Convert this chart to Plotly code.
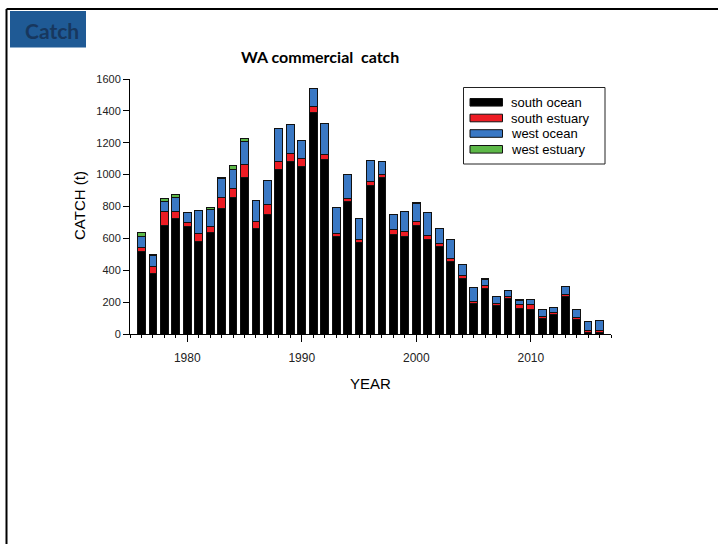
import plotly.graph_objects as go

years = list(range(1976, 2017))
series_names = ["south ocean", "south estuary", "west ocean", "west estuary"]
south_ocean = [515, 378, 678, 724, 672, 580, 636, 787, 856, 980, 663, 749, 1032, 1080, 1053, 1391, 1095,
               613, 833, 573, 932, 982, 626, 609, 678, 592, 550, 458, 349, 190, 288, 179, 221, 160, 156,
               99, 121, 236, 91, 11, 11]
south_estuary = [25, 46, 88, 46, 25, 50, 36, 67, 57, 84, 46, 63, 53, 53, 48, 35, 33, 19, 19, 23, 22, 19,
                 27, 35, 29, 27, 17, 15, 19, 12, 15, 15, 15, 22, 29, 13, 12, 14, 13, 11, 11]
west_ocean = [70, 67, 67, 86, 65, 146, 111, 122, 119, 144, 126, 151, 207, 182, 111, 115, 193, 161, 149,
              128, 135, 82, 96, 122, 111, 143, 92, 119, 67, 90, 36, 44, 37, 28, 30, 40, 34, 51, 48, 55, 63]
west_estuary = [25, 10, 17, 19, 0, 0, 10, 8, 25, 19, 0, 0, 0, 0, 0, 0, 0, 0, 0, 0, 0, 0, 0, 0, 8, 0, 0,
                0, 0, 0, 10, 0, 0, 8, 0, 0, 0, 0, 0, 0, 0]
x_tick_vals = [1980, 1990, 2000, 2010]
y_tick_vals = [0, 200, 400, 600, 800, 1000, 1200, 1400, 1600]
colors = ["#000000", "#ED1C24", "#3A78C4", "#5DB848"]

W, H = 718, 544
ML, MR, MT, MB = 130, 107, 79, 210
PW, PH = W - ML - MR, H - MT - MB


def px(xp):
    return (xp - ML) / PW


def py(yp):
    return (H - MB - yp) / PH


fig = go.Figure()
for name, vals, col in zip(series_names, [south_ocean, south_estuary, west_ocean, west_estuary], colors):
    fig.add_trace(go.Bar(x=years, y=vals, name=name, width=0.68,
                         marker=dict(color=col, line=dict(color="#111111", width=1)),
                         showlegend=False))

shapes = []
annotations = []
# page frame (top and left lines)
shapes.append(dict(type="line", xref="paper", yref="paper", x0=px(6.5), x1=px(720), y0=py(9), y1=py(9),
                   line=dict(color="black", width=2)))
shapes.append(dict(type="line", xref="paper", yref="paper", x0=px(6.5), x1=px(6.5), y0=py(9), y1=py(546),
                   line=dict(color="black", width=2)))
# Catch tab
shapes.append(dict(type="rect", xref="paper", yref="paper", x0=px(10), x1=px(86), y0=py(11), y1=py(47.5),
                   fillcolor="#1F5A95", line=dict(width=0)))
annotations.append(dict(text="<b>Catch</b>", xref="paper", yref="paper", x=px(52), y=py(30), showarrow=False,
                        font=dict(family="Lato", size=21, color="#17375E"), xanchor="center", yanchor="middle"))
# title
annotations.append(dict(text="<b>WA commercial  catch</b>", xref="paper", yref="paper", x=px(320), y=py(56),
                        showarrow=False, font=dict(family="Lato", size=16, color="black"),
                        xanchor="center", yanchor="middle"))
# axis titles
annotations.append(dict(text="CATCH (t)", xref="paper", yref="paper", x=px(79), y=py(206), textangle=-90,
                        showarrow=False, font=dict(family="Liberation Sans", size=15, color="black"),
                        xanchor="center", yanchor="middle"))
annotations.append(dict(text="YEAR", xref="paper", yref="paper", x=px(370), y=py(383),
                        showarrow=False, font=dict(family="Liberation Sans", size=15, color="black"),
                        xanchor="center", yanchor="middle"))
# legend
shapes.append(dict(type="rect", xref="paper", yref="paper", x0=px(463.5), x1=px(605), y0=py(87.5), y1=py(164),
                   fillcolor="white", line=dict(color="#222222", width=1)))
row_y = [102.3, 118, 133.5, 149.3]
for name, col, ry in zip(series_names, colors, row_y):
    shapes.append(dict(type="rect", xref="paper", yref="paper", x0=px(470), x1=px(502.5), y0=py(ry - 3.8),
                       y1=py(ry + 3.8), fillcolor=col, line=dict(color="#111111", width=1)))
    annotations.append(dict(text=name, xref="paper", yref="paper", x=px(509), y=py(ry), showarrow=False,
                            font=dict(family="Liberation Sans", size=13, color="black"),
                            xanchor="left", yanchor="middle"))

fig.update_layout(
    width=W, height=H, margin=dict(l=ML, r=MR, t=MT, b=MB, pad=0),
    barmode="stack", bargap=0.3,
    paper_bgcolor="white", plot_bgcolor="white",
    shapes=shapes, annotations=annotations,
    xaxis=dict(range=[1975, 2017], tickvals=x_tick_vals, ticks="outside", ticklen=7, tickcolor="black",
               showline=True, linecolor="black", linewidth=1, showgrid=False, zeroline=False,
               tickfont=dict(family="Liberation Sans", size=12, color="#222222"), ticklabelstandoff=6,
               minor=dict(dtick=1, tick0=1975, ticks="outside", ticklen=3, tickcolor="black", showgrid=False)),
    yaxis=dict(range=[0, 1600], tickvals=y_tick_vals, ticks="outside", ticklen=6, tickcolor="black",
               showline=True, linecolor="black", linewidth=1, showgrid=False, zeroline=False,
               tickfont=dict(family="Liberation Sans", size=11, color="#222222")),
)

fig.write_html("out.html", config={"displayModeBar": False},
               post_script="document.body.style.margin='0';document.body.style.overflow='hidden';")
